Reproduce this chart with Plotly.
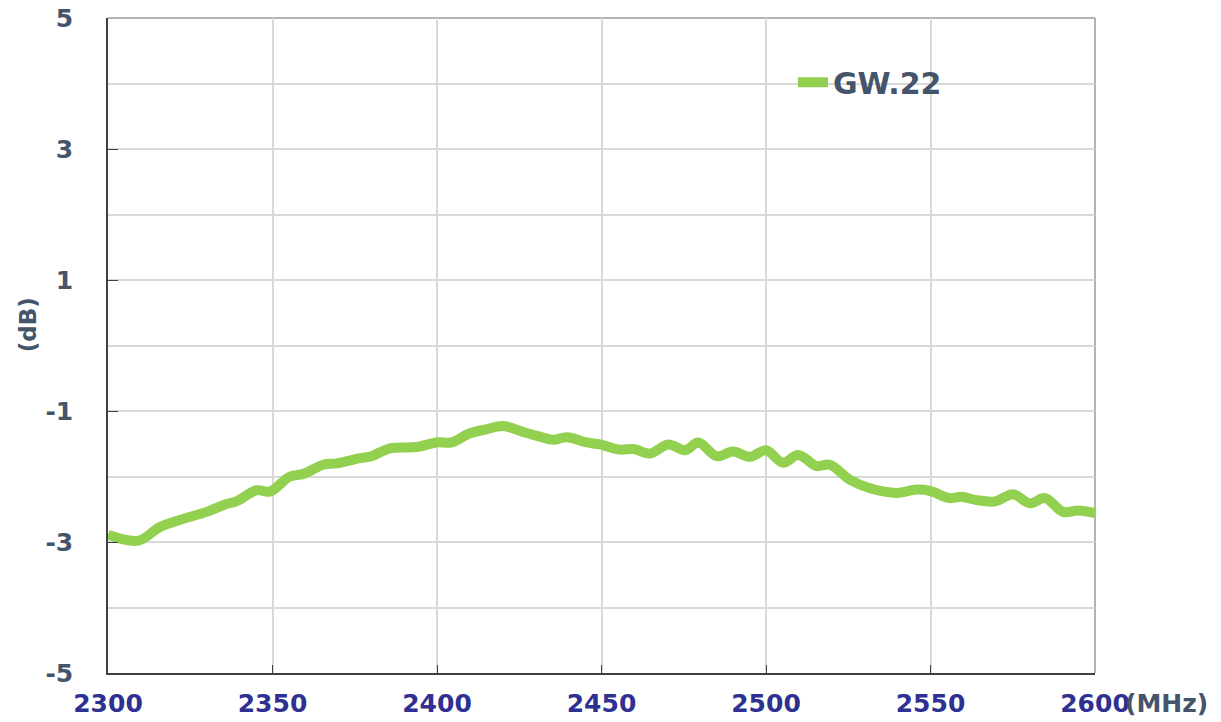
import plotly.graph_objects as go

freq_mhz = [2300, 2309.2, 2315.8, 2322, 2330, 2336, 2339, 2345.2, 2349.2, 2355.3, 2359.4,
            2365.4, 2369.5, 2376.6, 2380.1, 2385.7, 2393.8, 2399.9, 2404.4, 2410, 2415,
            2420.1, 2426.2, 2431.2, 2435.3, 2439.4, 2445.5, 2449.5, 2455.6, 2459.7, 2464.7,
            2470.3, 2475.4, 2479.4, 2485, 2490, 2495.1, 2500, 2505.2, 2509.8, 2515.4,
            2519.4, 2525.5, 2531.6, 2539.7, 2545.8, 2549.8, 2555.9, 2559.4, 2564, 2569.6,
            2575.1, 2580.2, 2584.8, 2590.3, 2594.9, 2600]
gain_db = [-2.89, -2.98, -2.77, -2.66, -2.54, -2.42, -2.38, -2.21, -2.23, -2.00, -1.96,
           -1.82, -1.80, -1.72, -1.69, -1.57, -1.55, -1.48, -1.48, -1.34, -1.28,
           -1.23, -1.32, -1.39, -1.44, -1.40, -1.48, -1.51, -1.59, -1.58, -1.65,
           -1.51, -1.60, -1.48, -1.69, -1.62, -1.70, -1.60, -1.79, -1.67, -1.84,
           -1.82, -2.05, -2.18, -2.25, -2.20, -2.22, -2.33, -2.31, -2.36, -2.38,
           -2.27, -2.41, -2.33, -2.54, -2.52, -2.56]
series_name = "GW.22"
x_ticks = [2300, 2350, 2400, 2450, 2500, 2550, 2600]
y_ticks = [-5, -3, -1, 1, 3, 5]

FONT = "DejaVu Sans"
GRID = "#D9D9D9"
SLATE = "#44546A"
BLUE = "#2E3192"

fig = go.Figure()
fig.add_trace(go.Scatter(
    x=freq_mhz, y=gain_db, mode="lines", name=series_name,
    line=dict(color="#92D050", width=10, shape="spline", smoothing=1.0),
    showlegend=True,
))

# white legend box area hiding gridlines
fig.add_shape(type="rect", xref="paper", yref="paper",
              x0=0.547, x1=0.985, y0=0.824, y1=0.980,
              fillcolor="white", line=dict(width=0), layer="between")
# top and right plot border
fig.add_shape(type="line", xref="paper", yref="paper", x0=0, x1=1, y0=1, y1=1,
              line=dict(color="#9A9A9A", width=1.5), layer="between")
fig.add_shape(type="line", xref="paper", yref="paper", x0=1, x1=1, y0=0, y1=1,
              line=dict(color="#9A9A9A", width=1.5), layer="between")

fig.update_layout(
    width=1221, height=722,
    margin=dict(l=108, r=126, t=18, b=49, autoexpand=False),
    plot_bgcolor="white", paper_bgcolor="white",
    font=dict(family=FONT),
    legend=dict(x=0.694, y=0.902, xanchor="left", yanchor="middle",
                bgcolor="rgba(0,0,0,0)",
                font=dict(family=FONT, size=30, color=SLATE, weight="bold")),
    xaxis=dict(range=[2300, 2600], tickvals=x_ticks,
               ticktext=[str(v) for v in x_ticks],
               showgrid=True, gridcolor=GRID, gridwidth=1.5,
               showline=True, linecolor="#404040", linewidth=1.5,
               ticks="inside", ticklen=8, tickcolor="#404040",
               ticklabelstandoff=7, automargin=False, ticklabeloverflow="allow",
               tickfont=dict(family=FONT, size=25, color=BLUE, weight="bold"),
               zeroline=False),
    yaxis=dict(range=[-5, 5], tickvals=y_ticks,
               ticktext=[str(v) for v in y_ticks],
               showgrid=True, gridcolor=GRID, gridwidth=1.5,
               minor=dict(dtick=1, tick0=0, showgrid=True, gridcolor=GRID, gridwidth=1.5,
                          ticks=""),
               showline=True, linecolor="#404040", linewidth=1.5,
               ticks="inside", ticklen=10, tickcolor="#404040",
               ticklabelstandoff=28, automargin=False, ticklabeloverflow="allow",
               tickfont=dict(family=FONT, size=25, color=SLATE, weight="bold"),
               zeroline=False),
)

fig.add_annotation(text="(dB)", xref="paper", yref="paper",
                   x=-0.081, y=0.531, xanchor="center", yanchor="middle",
                   textangle=-90, showarrow=False,
                   font=dict(family=FONT, size=23, color=SLATE, weight="bold"))
fig.add_annotation(text="(MHz)", xref="paper", yref="paper",
                   x=1.0285, y=-0.047, xanchor="left", yanchor="middle", showarrow=False,
                   font=dict(family=FONT, size=25, color=SLATE, weight="bold"))

fig.write_html("out.html", config={"displayModeBar": False},
               post_script="document.body.style.margin='0';")
